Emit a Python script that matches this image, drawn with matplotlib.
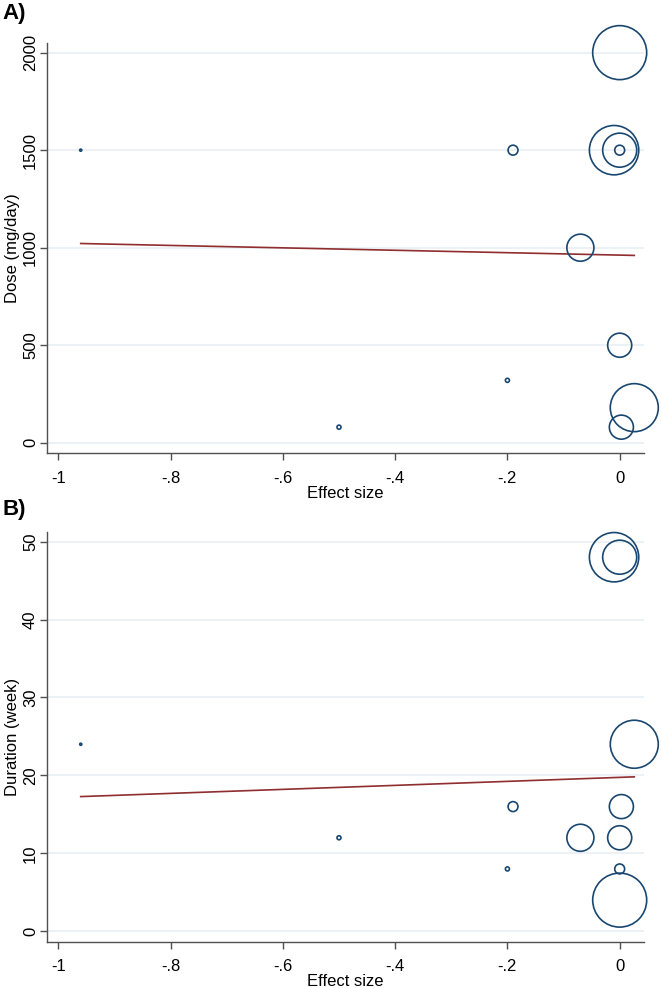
import numpy as np
import matplotlib
matplotlib.use("Agg")
import matplotlib.pyplot as plt
from matplotlib.ticker import FuncFormatter

plt.rcParams['font.family'] = ['Liberation Sans', 'DejaVu Sans']

# ---------------------------------------------------------------
# data (one entry per study)
# ---------------------------------------------------------------
effect_size = [-0.96, -0.50, -0.20, -0.19, -0.07, 0.003, 0.0, 0.0, 0.0, 0.026, -0.01, 0.0]
dose_mg = [1500, 80, 320, 1500, 1000, 80, 500, 1500, 2000, 180, 1500, 1500]
duration_wk = [24, 12, 8, 16, 12, 16, 12, 8, 4, 24, 48, 48]
weight_pct = [0.04, 0.15, 0.15, 0.9, 6.7, 5.3, 5.3, 0.9, 26.7, 21.1, 22.3, 10.6]

# meta-regression fits: (intercept, slope)
dose_fit = (962.0, -62.0)
duration_fit = (19.75, 2.57)

x_ticks = [-1, -0.8, -0.6, -0.4, -0.2, 0]
dose_ticks = [0, 500, 1000, 1500, 2000]
duration_ticks = [0, 10, 20, 30, 40, 50]

# ---------------------------------------------------------------
# styling
# ---------------------------------------------------------------
navy = '#1a476f'
maroon = '#8f2d2f'
grid_col = '#e6eef1'
axis_col = '#505050'


def stata_num(v, pos=None):
    if abs(v) < 1e-9:
        return '0'
    return ('%g' % v).replace('0.', '.')


def bubble_panel(ax, yvals, fit, yticks, ylim, ylabel):
    sizes = np.array(weight_pct) * 56.6
    ax.scatter(effect_size, yvals, s=sizes, facecolors='none',
               edgecolors=navy, linewidths=1.2, zorder=3, clip_on=False)
    xs = np.array([min(effect_size), max(effect_size)])
    ax.plot(xs, fit[0] + fit[1] * xs, color=maroon, lw=1.2, zorder=2)

    ax.set_xlim(-1.0201, 0.0438)
    ax.set_ylim(*ylim)
    ax.set_xticks(x_ticks)
    ax.set_yticks(yticks)
    ax.xaxis.set_major_formatter(FuncFormatter(stata_num))
    ax.tick_params(axis='both', length=5, width=1, color=axis_col,
                   labelsize=12, labelcolor='black')
    ax.tick_params(axis='x', pad=7.5)
    ax.tick_params(axis='y', labelrotation=90, pad=1.5)
    for lab in ax.get_yticklabels():
        lab.set_va('center')

    ax.yaxis.grid(True, color=grid_col, lw=1.1)
    ax.set_axisbelow(True)
    for sp in ['top', 'right']:
        ax.spines[sp].set_visible(False)
    for sp in ['left', 'bottom']:
        ax.spines[sp].set_color(axis_col)
        ax.spines[sp].set_linewidth(1)

    ax.set_xlabel('Effect size', fontsize=12, labelpad=0)
    ax.set_ylabel(ylabel, fontsize=12)
    ax.yaxis.set_label_coords(-0.046, 0.5)


fig = plt.figure(figsize=(6.61, 9.88), dpi=100, facecolor='white')

ax_a = fig.add_axes([0.0711, 0.5412, 0.9036, 0.4156])
bubble_panel(ax_a, dose_mg, dose_fit, dose_ticks, (-54, 2051), 'Dose (mg/day)')

ax_b = fig.add_axes([0.0711, 0.0466, 0.9036, 0.4153])
bubble_panel(ax_b, duration_wk, duration_fit, duration_ticks, (-1.37, 51.28), 'Duration (week)')

fig.text(0.004, 1 - 13 / 988, 'A)', fontsize=16, fontweight='bold', ha='left', va='center')
fig.text(0.004, 1 - 509 / 988, 'B)', fontsize=16, fontweight='bold', ha='left', va='center')

fig.savefig('out.png', dpi=100, facecolor='white')
